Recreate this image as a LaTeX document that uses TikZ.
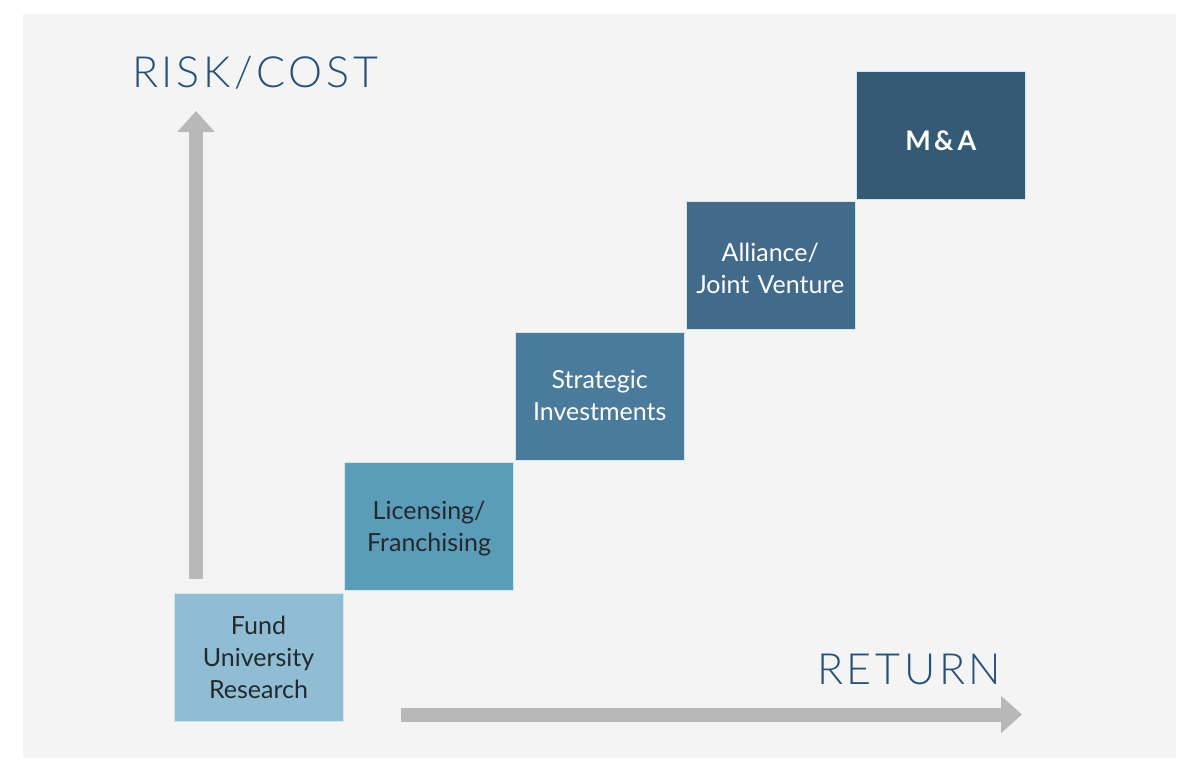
\documentclass[tikz,border=0pt]{standalone}
\usepackage{fontspec}
\setmainfont{Lato}
\newfontfamily\axisfont[LetterSpace=8.5]{Lato Light}
\usetikzlibrary{arrows.meta,positioning}

\definecolor{bgfill}{HTML}{F4F4F4}
\definecolor{arrowgray}{HTML}{B8B8B8}
\definecolor{labelblue}{HTML}{24507A}
\definecolor{textdark}{HTML}{23292E}
\definecolor{stepA}{HTML}{8FBDD3}
\definecolor{stepB}{HTML}{5B9CB8}
\definecolor{stepC}{HTML}{4A7A9C}
\definecolor{stepD}{HTML}{416A8B}
\definecolor{stepE}{HTML}{345A75}

\begin{document}
\begin{tikzpicture}[x=1pt, y=-1pt]
    % Define block styles
    \tikzstyle{stepbox} = [rectangle, draw=white!60!stepA, line width=0.6pt, inner sep=0pt, minimum width=169pt, minimum height=128pt, text width=160pt, text height=18pt, text depth=32pt, align=center, font=\fontsize{25}{32}\selectfont]
    \tikzstyle{axis} = [draw=arrowgray, line width=14pt, -{Triangle[length=21pt, width=36pt]}]
    \tikzstyle{axislabel} = [inner sep=0pt, anchor=base west, text=labelblue, font=\axisfont\fontsize{43}{43}\selectfont]

    % Background
    \useasboundingbox (0,0) rectangle (1200,784);
    \fill [bgfill] (23,14) rectangle (1176,758);

    % Nodes
    \node [stepbox, fill=stepA, text=textdark, text depth=64pt] (Fund_Research) at (258.5,657) {Fund\\University\\Research};
    \node [stepbox, fill=stepB, text=textdark, above right=2pt and 1pt of Fund_Research.north east, anchor=south west] (Licensing) {Licensing/\\Franchising};
    \node [stepbox, fill=stepC, text=white, above right=2pt and 1pt of Licensing.north east, anchor=south west] (Strategic_Inv) {Strategic\\Investments};
    \node [stepbox, fill=stepD, text=white, text height=24pt, above right=2pt and 1pt of Strategic_Inv.north east, anchor=south west] (Alliance) {Alliance/\\Joint Venture};
    \node [stepbox, fill=stepE, text=white, above right=1pt and 1pt of Alliance.north east, anchor=south west, text height=30pt, text depth=0pt, font=\fontsize{27}{32}\selectfont\bfseries\addfontfeatures{LetterSpace=12}] (MA) {M\&A};

    % Axis labels
    \node [axislabel] (Risk_Label) at (132,88) {RISK/COST};
    \node [axislabel] (Return_Label) at (817,684) {RETURN};

    % Arrows
    \coordinate (Risk_Start) at (196,579);
    \coordinate (Risk_End) at (196,111);
    \coordinate (Return_Start) at (401,714.5);
    \coordinate (Return_End) at (1022,714.5);
    \path [axis] (Risk_Start) -- (Risk_End);
    \path [axis] (Return_Start) -- (Return_End);

\end{tikzpicture}
\end{document}
